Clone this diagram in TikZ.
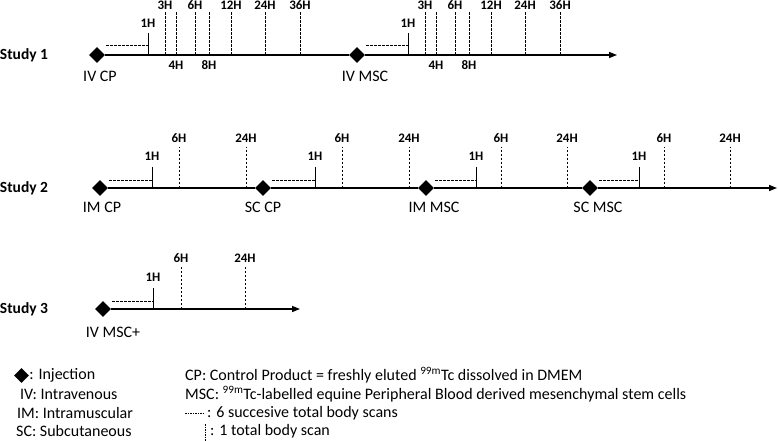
\documentclass[tikz,border=0pt]{standalone}
\usepackage{fontspec}
\setmainfont{Carlito}
\usetikzlibrary{shapes.geometric,arrows.meta}
\begin{document}
\begin{tikzpicture}[x=1pt,y=-1pt,
 inj/.style={diamond,fill=black,inner sep=0pt,minimum width=16pt,minimum height=16pt},
 tl/.style={line width=1.4pt,-{Triangle[length=8pt,width=6pt]}},
 tlp/.style={line width=1.4pt},
 hlab/.style={font=\fontsize{13}{15}\selectfont\bfseries,inner sep=0pt},
 big/.style={font=\fontsize{16}{19}\selectfont,inner sep=0pt},
 stl/.style={font=\fontsize{15.5}{19}\selectfont\bfseries,inner sep=0pt},
 scan/.style={dash pattern=on 2.5pt off 1.5pt,line width=0.8pt},
 one/.style={line width=1pt},
 lgdash/.style={dash pattern=on 1.5pt off 1pt,line width=0.7pt},
]
\useasboundingbox (0,0) rectangle (778,441);

% ---------------- Study 1 ----------------
\node[stl] (st1) at (24,55) {Study 1};
\node[inj] (d1a) at (97,55) {};
\node[inj] (d1b) at (357,55) {};
\coordinate (e1) at (617,55);
\draw[tlp] (d1a.east) -- (d1b.west);
\draw[tl] (d1b.east) -- (e1);
\node[big] (n1a) at (100,76) {IV CP};
\node[big] (n1b) at (365,76) {IV MSC};
\foreach \n/\x in {a/97,b/357}{
  \coordinate (s1\n-1) at (\x+51,55);
  \coordinate (u1\n-1) at (\x+51,33);
  \node[hlab] (l1\n-1) at (\x+51,23) {1H};
  \draw[one] (s1\n-1) -- (u1\n-1);
  \coordinate (h1\n) at (\x+51,45);
  \draw[scan] (\x+9,45) -- (h1\n);
  \foreach \t/\dx/\ly in {3/68/5,4/79/65,6/98/5,8/112/65,12/134/5,24/168/5,36/203/5}{
    \coordinate (s1\n-\t) at (\x+\dx,55);
    \coordinate (u1\n-\t) at (\x+\dx,12);
    \node[hlab] (l1\n-\t) at (\x+\dx,\ly) {\t H};
    \draw[scan] (s1\n-\t) -- (u1\n-\t);
  }
}

% ---------------- Study 2 ----------------
\node[stl] (st2) at (24,188) {Study 2};
\node[inj] (d2a) at (100,188) {};
\node[inj] (d2b) at (263,188) {};
\node[inj] (d2c) at (426,188) {};
\node[inj] (d2d) at (590,188) {};
\coordinate (e2) at (777,188);
\draw[tlp] (d2a.east) -- (d2b.west);
\draw[tlp] (d2b.east) -- (d2c.west);
\draw[tlp] (d2c.east) -- (d2d.west);
\draw[tl] (d2d.east) -- (e2);
\node[big] (n2a) at (102,207) {IM CP};
\node[big] (n2b) at (263,207) {SC CP};
\node[big] (n2c) at (434,207) {IM MSC};
\node[big] (n2d) at (598,207) {SC MSC};
\foreach \n/\x/\a/\b/\c in {a/100/152/179/246,b/263/315/342/409,c/426/476/501/567,d/590/639/664/730}{
  \coordinate (s2\n-1) at (\a,188);
  \coordinate (u2\n-1) at (\a,167);
  \node[hlab] (l2\n-1) at (\a,156) {1H};
  \draw[one] (s2\n-1) -- (u2\n-1);
  \coordinate (h2\n) at (\a,180);
  \draw[scan] (\x+9,180) -- (h2\n);
  \coordinate (s2\n-6) at (\b,188);
  \coordinate (u2\n-6) at (\b,147);
  \node[hlab] (l2\n-6) at (\b,138) {6H};
  \draw[scan] (s2\n-6) -- (u2\n-6);
  \coordinate (s2\n-24) at (\c,188);
  \coordinate (u2\n-24) at (\c,147);
  \node[hlab] (l2\n-24) at (\c,138) {24H};
  \draw[scan] (s2\n-24) -- (u2\n-24);
}

% ---------------- Study 3 ----------------
\node[stl] (st3) at (24,309) {Study 3};
\node[inj] (d3a) at (103,309) {};
\coordinate (e3) at (300,309);
\draw[tl] (d3a.east) -- (e3);
\node[big] (n3a) at (113,332) {IV MSC+};
\coordinate (s3-1) at (153,309);
\coordinate (u3-1) at (153,288);
\node[hlab] (l3-1) at (153,277) {1H};
\draw[one] (s3-1) -- (u3-1);
\coordinate (h3) at (153,301);
\draw[scan] (112,301) -- (h3);
\coordinate (s3-6) at (181,309);
\coordinate (u3-6) at (181,266);
\node[hlab] (l3-6) at (181,258) {6H};
\draw[scan] (s3-6) -- (u3-6);
\coordinate (s3-24) at (245,309);
\coordinate (u3-24) at (245,266);
\node[hlab] (l3-24) at (245,258) {24H};
\draw[scan] (s3-24) -- (u3-24);

% ---------------- Legend ----------------
\node[inj,minimum width=15pt,minimum height=15pt] (lgd) at (21.5,375.5) {};
\node[big,anchor=west] (lg1) at (lgd.east) {: Injection};
\node[big,anchor=west] (lg2) at (20,394.5) {IV: Intravenous};
\node[big,anchor=west] (lg3) at (17,413) {IM: Intramuscular};
\node[big,anchor=west] (lg4) at (16,431.5) {SC: Subcutaneous};
\node[big,anchor=west] (lg5) at (185,375.5) {CP: Control Product = freshly eluted \textsuperscript{99m}Tc dissolved in DMEM};
\node[big,anchor=west] (lg6) at (185,394.5) {MSC: \textsuperscript{99m}Tc-labelled equine Peripheral Blood derived mesenchymal stem cells};
\coordinate (lk1a) at (185,413);
\coordinate (lk1b) at (204,413);
\draw[lgdash] (lk1a) -- (lk1b);
\node[big,anchor=west] (lg7) at (207,413) {: 6 succesive total body scans};
\coordinate (lk2a) at (205,424);
\coordinate (lk2b) at (205,441);
\draw[lgdash] (lk2a) -- (lk2b);
\node[big,anchor=west] (lg8) at (210,431.5) {: 1 total body scan};
\end{tikzpicture}
\end{document}
